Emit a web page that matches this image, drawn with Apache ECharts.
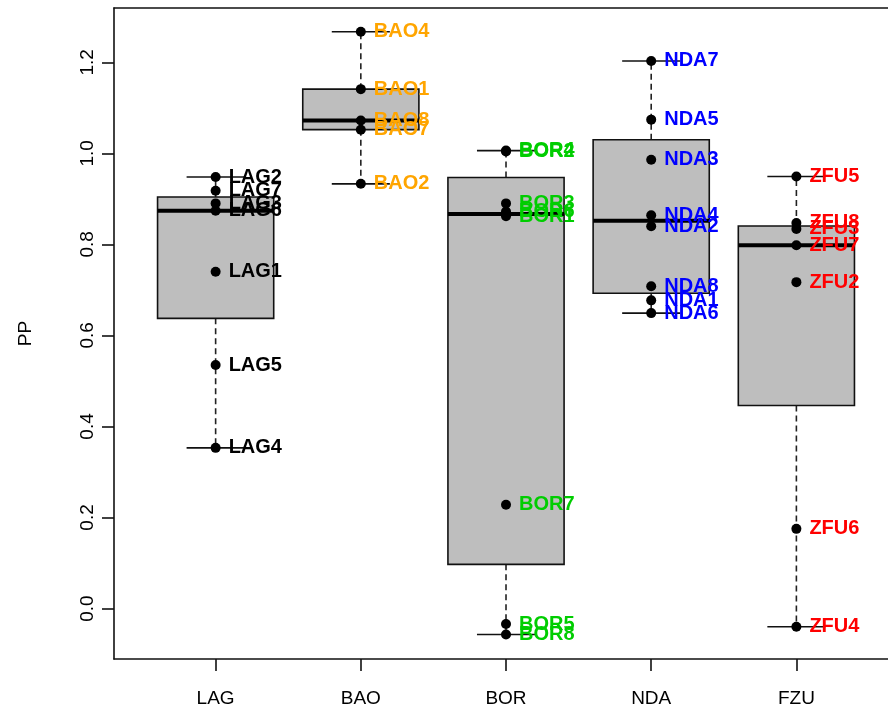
<!DOCTYPE html>
<html>
<head>
<meta charset="utf-8">
<script src="https://cdn.jsdelivr.net/npm/echarts@6/dist/echarts.min.js"></script>
<style>
  html, body { margin: 0; padding: 0; background: #fff; }
  #chart { width: 888px; height: 711px; }
</style>
</head>
<body>
<div id="chart"></div>
<script>
// groups along x
const groups = ["LAG", "BAO", "BOR", "NDA", "FZU"];
const labelColors = ["#000000", "#FFA500", "#00CD00", "#0000FF", "#FF0000"];

// sample names and PP values per group
const lagNames = ["LAG1", "LAG2", "LAG3", "LAG4", "LAG5", "LAG6", "LAG7"];
const lagValues = [0.740, 0.948, 0.890, 0.353, 0.535, 0.874, 0.918];

const baoNames = ["BAO1", "BAO2", "BAO4", "BAO7", "BAO8"];
const baoValues = [1.141, 0.933, 1.267, 1.052, 1.072];

const borNames = ["BOR1", "BOR2", "BOR3", "BOR4", "BOR5", "BOR6", "BOR7", "BOR8"];
const borValues = [0.862, 1.004, 0.890, 1.006, -0.034, 0.872, 0.228, -0.057];

const ndaNames = ["NDA1", "NDA2", "NDA3", "NDA4", "NDA5", "NDA6", "NDA7", "NDA8"];
const ndaValues = [0.677, 0.840, 0.986, 0.864, 1.074, 0.649, 1.203, 0.708];

const fzuNames = ["ZFU2", "ZFU3", "ZFU4", "ZFU5", "ZFU6", "ZFU7", "ZFU8"];
const fzuValues = [0.717, 0.834, -0.040, 0.949, 0.175, 0.798, 0.847];

const yTicks = [0, 0.2, 0.4, 0.6, 0.8, 1.0, 1.2];

const allNames = [lagNames, baoNames, borNames, ndaNames, fzuNames];
const allValues = [lagValues, baoValues, borValues, ndaValues, fzuValues];

const FONT = "'Liberation Sans', Arial, Helvetica, sans-serif";
const frame = { show: true, onZero: false, lineStyle: { color: "#111", width: 1.6 } };

// Tukey five number summary, same as R's fivenum()
function fivenum(vals) {
  const x = vals.slice().sort((a, b) => a - b);
  const n = x.length;
  const n4 = Math.floor((n + 3) / 2) / 2;
  const d = [1, n4, (n + 1) / 2, n + 1 - n4, n];
  return d.map((v) => 0.5 * (x[Math.floor(v) - 1] + x[Math.ceil(v) - 1]));
}

const boxData = allValues.map((vals, i) => [i + 1].concat(fivenum(vals)));

function renderBox(params, api) {
  const x = api.value(0);
  const lo = api.value(1), q1 = api.value(2), med = api.value(3), q3 = api.value(4), hi = api.value(5);
  const p = (a, b) => api.coord([a, b]);
  const whisk = { stroke: "#222", lineWidth: 1.6, lineDash: [6, 4] };
  const solid = { stroke: "#111", lineWidth: 1.6 };
  const tl = p(x - 0.4, q3), br = p(x + 0.4, q1);
  return {
    type: "group",
    children: [
      { type: "line", shape: { x1: p(x, q3)[0], y1: p(x, q3)[1], x2: p(x, hi)[0], y2: p(x, hi)[1] }, style: whisk },
      { type: "line", shape: { x1: p(x, q1)[0], y1: p(x, q1)[1], x2: p(x, lo)[0], y2: p(x, lo)[1] }, style: whisk },
      { type: "line", shape: { x1: p(x - 0.2, hi)[0], y1: p(x, hi)[1], x2: p(x + 0.2, hi)[0], y2: p(x, hi)[1] }, style: solid },
      { type: "line", shape: { x1: p(x - 0.2, lo)[0], y1: p(x, lo)[1], x2: p(x + 0.2, lo)[0], y2: p(x, lo)[1] }, style: solid },
      {
        type: "rect",
        shape: { x: tl[0], y: tl[1], width: br[0] - tl[0], height: br[1] - tl[1] },
        style: { fill: "#BEBEBE", stroke: "#111", lineWidth: 1.6 },
      },
      { type: "line", shape: { x1: tl[0], y1: p(x, med)[1], x2: br[0], y2: p(x, med)[1] }, style: { stroke: "#000", lineWidth: 4 } },
    ],
  };
}

const pointSeries = allValues.map((vals, i) => ({
  type: "scatter",
  name: groups[i],
  z: 5,
  symbol: "circle",
  symbolSize: 10,
  itemStyle: { color: "#000", opacity: 1 },
  data: vals.map((v, j) => ({ value: [i + 1, v], name: allNames[i][j] })),
  label: {
    show: true,
    position: "right",
    distance: 8,
    formatter: "{b}",
    color: labelColors[i],
    opacity: 1,
    fontFamily: FONT,
    fontWeight: "bold",
    fontSize: 20,
  },
  labelLayout: { hideOverlap: false },
}));

const opt = {
  animation: false,
  backgroundColor: "#fff",
  grid: {
    left: 114,
    top: 8,
    right: 0,
    height: 651,
  },
  xAxis: [
    {
      type: "value",
      min: 0.3,
      max: 5.631,
      splitLine: { show: false },
      axisLine: frame,
      axisTick: { show: true, length: 12, customValues: [1, 2, 3, 4, 5], lineStyle: { color: "#111", width: 1.6 } },
      axisLabel: {
        customValues: [1, 2, 3, 4, 5],
        formatter: (v) => groups[Math.round(v) - 1],
        margin: 30,
        color: "#000",
        fontFamily: FONT,
        fontSize: 19,
      },
    },
    {
      // top edge of the plot frame
      type: "value",
      position: "top",
      min: 0.3,
      max: 5.631,
      splitLine: { show: false },
      axisLine: frame,
      axisTick: { show: false },
      axisLabel: { show: false },
    },
  ],
  yAxis: {
    type: "value",
    min: -0.1109,
    max: 1.3193,
    name: "PP",
    nameLocation: "middle",
    nameRotate: 90,
    nameGap: 79,
    nameTextStyle: { color: "#000", fontFamily: FONT, fontSize: 19 },
    splitLine: { show: false },
    axisLine: frame,
    axisTick: { show: true, length: 12, customValues: yTicks, lineStyle: { color: "#111", width: 1.6 } },
    axisLabel: {
      customValues: yTicks,
      formatter: (v) => v.toFixed(1),
      rotate: 90,
      margin: 17,
      color: "#000",
      fontFamily: FONT,
      fontSize: 19,
    },
  },
  series: [
    {
      type: "custom",
      z: 2,
      renderItem: renderBox,
      encode: { x: 0, y: [1, 2, 3, 4, 5] },
      data: boxData,
    },
  ].concat(pointSeries),
};

echarts.init(document.getElementById("chart"), null, { renderer: "canvas" }).setOption(opt);
</script>
</body>
</html>
